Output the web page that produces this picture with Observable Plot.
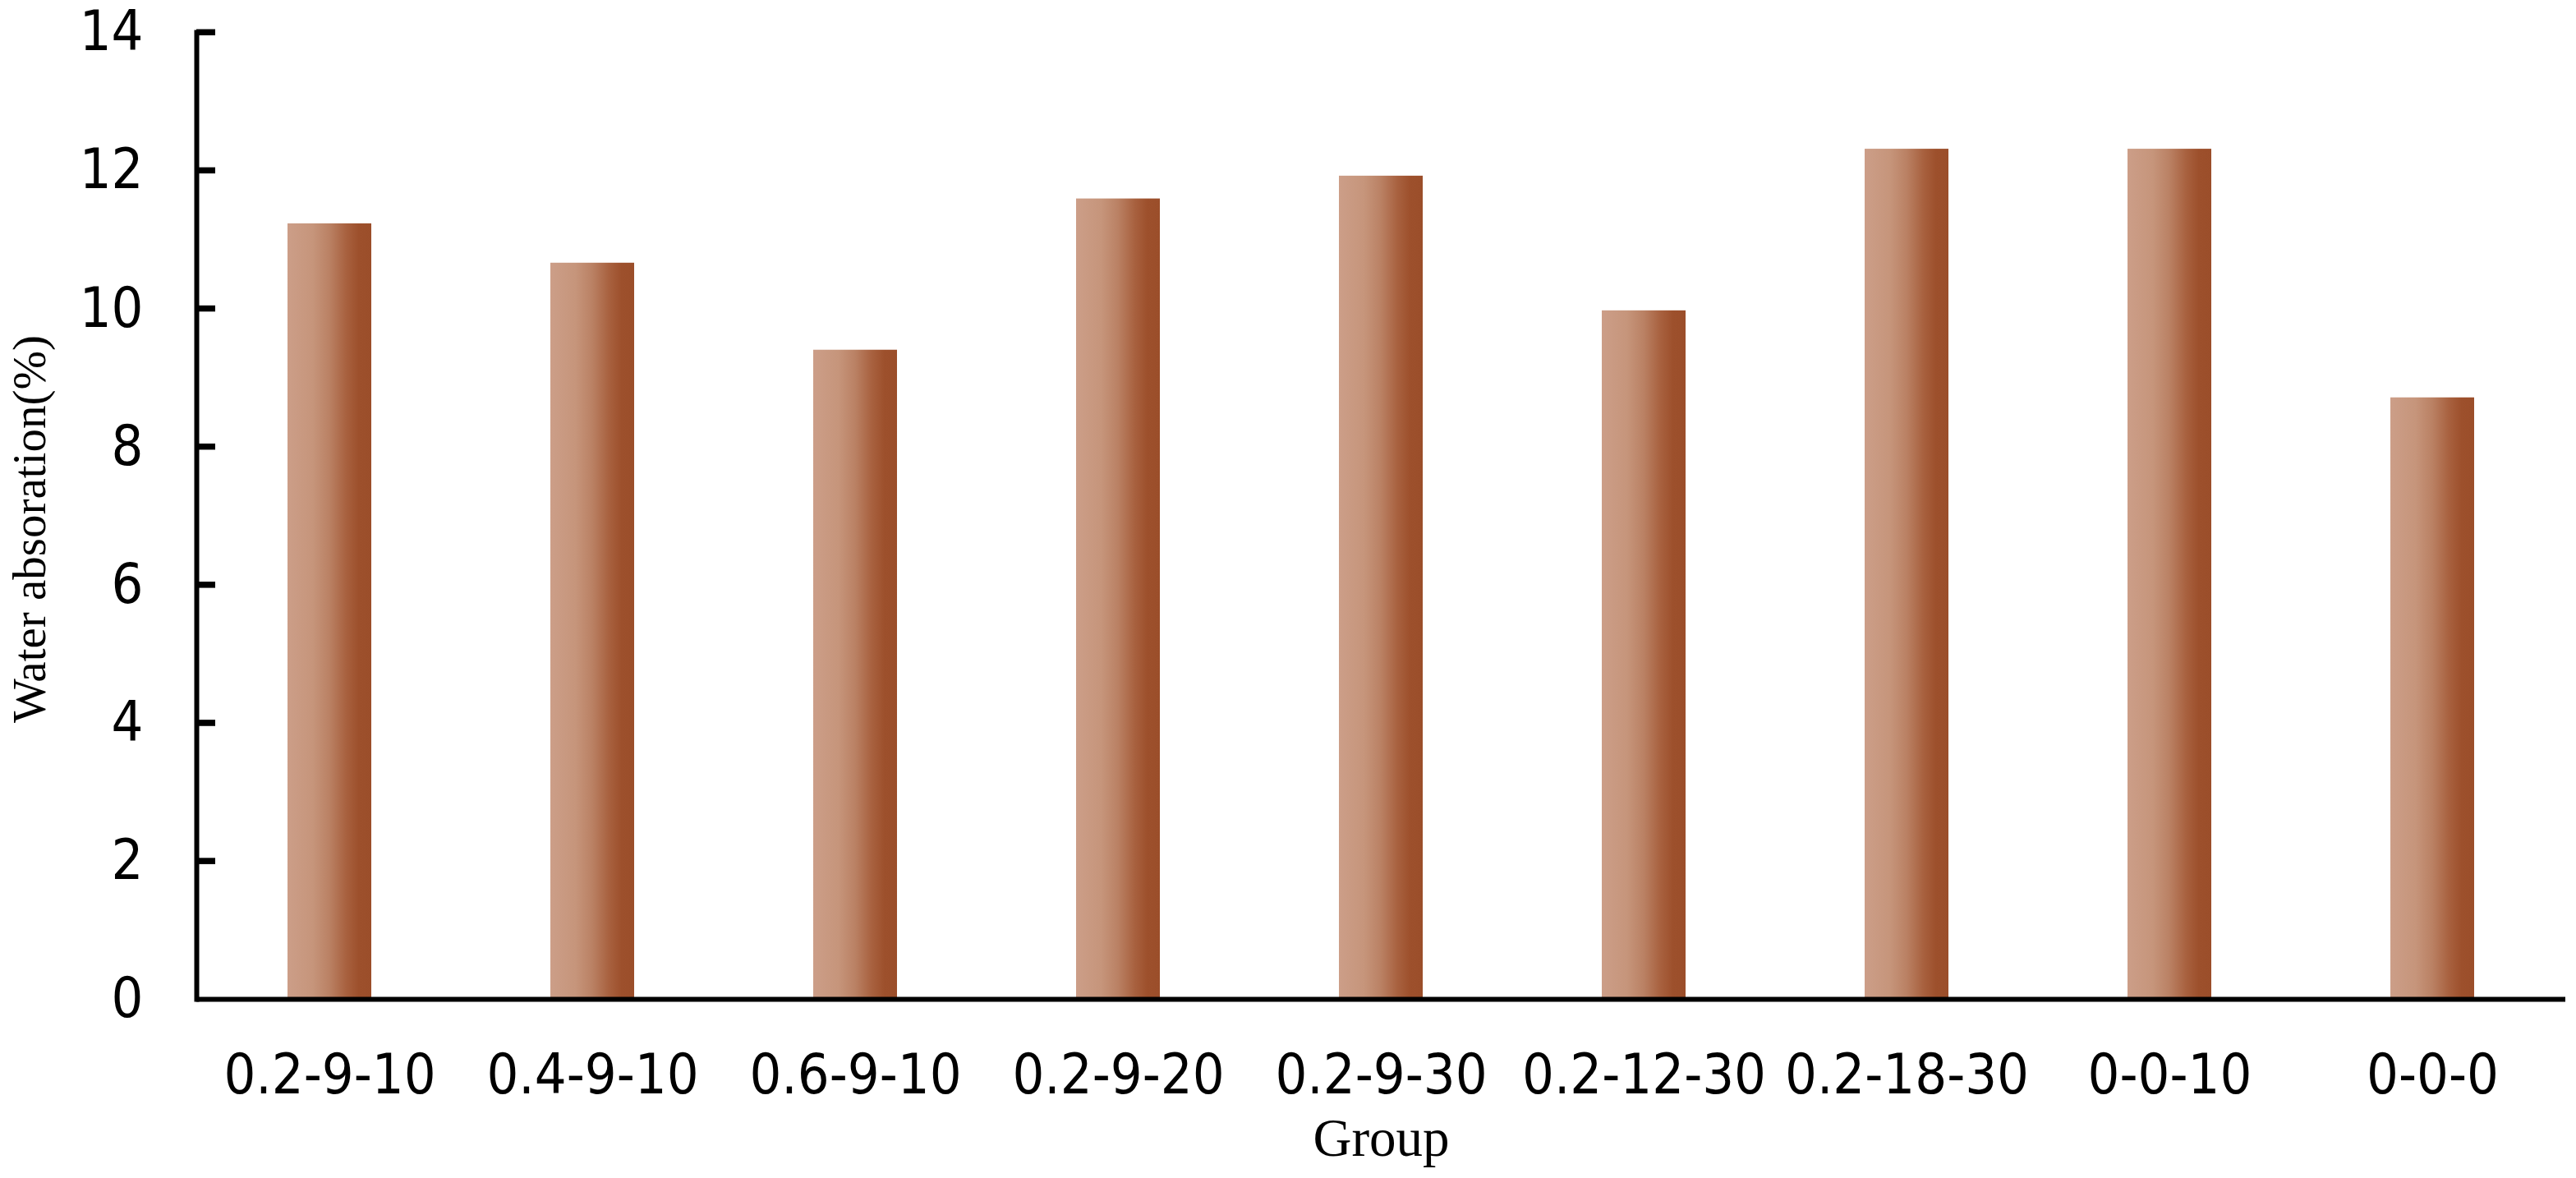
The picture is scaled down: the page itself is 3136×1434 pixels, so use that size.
<!DOCTYPE html>
<html>
<head>
<meta charset="utf-8">
<script src="https://cdn.jsdelivr.net/npm/d3@7"></script>
<script src="https://cdn.jsdelivr.net/npm/@observablehq/plot@0.6"></script>
<style>
  html, body { margin: 0; padding: 0; background: #ffffff; }
</style>
</head>
<body>
<div id="chart"></div>
<script>
// ---- data ----
const groups = ["0.2-9-10", "0.4-9-10", "0.6-9-10", "0.2-9-20", "0.2-9-30", "0.2-12-30", "0.2-18-30", "0-0-10", "0-0-0"];
const absorption = [11.23, 10.66, 9.40, 11.59, 11.92, 9.97, 12.31, 12.31, 8.71];
const yTicks = [0, 2, 4, 6, 8, 10, 12, 14];
const yTitle = "Water absoration(%)";
const xTitle = "Group";

const data = groups.map((g, i) => ({group: g, value: absorption[i]}));

const sansFont = '"Liberation Sans Narrow", "DejaVu Sans Condensed", Lato, sans-serif';
const serifFont = '"Liberation Serif", "Times New Roman", serif';

const W = 3136, H = 1434, mL = 239, mR = 13, mT = 39, mB = 218;
const inwardTick = 23;

const chart = Plot.plot({
  width: W,
  height: H,
  marginLeft: mL,
  marginRight: mR,
  marginTop: mT,
  marginBottom: mB,
  style: {background: "#ffffff", fontFamily: sansFont, color: "#000"},
  x: {domain: groups, paddingInner: 0.68, paddingOuter: 0.34, label: null},
  y: {domain: [0, 14], label: null},
  marks: [
    Plot.barY(data, {x: "group", y: "value", fill: "url(#barGrad)"}),
    Plot.axisY(yTicks, {tickSize: 0, tickPadding: 65, fontSize: 68, tickFormat: d => String(d), label: null}),
    Plot.axisX({tickSize: 0, tickPadding: 66, fontSize: 68, label: null}),
    Plot.frame({anchor: "left", strokeWidth: 6}),
    Plot.ruleY([0], {strokeWidth: 6}),
    // inward tick marks on the y axis
    Plot.ruleY(yTicks.filter(t => t > 0), {y: d => d, stroke: "#000", strokeWidth: 7, insetRight: (W - mL - mR) - inwardTick}),
    Plot.text([yTitle], {text: d => d, frameAnchor: "left", textAnchor: "middle", lineAnchor: "middle", rotate: -90, dx: -203, dy: 16, fontSize: 57, fontFamily: serifFont}),
    Plot.text([xTitle], {text: d => d, frameAnchor: "bottom", lineAnchor: "bottom", dy: 190, fontSize: 65, fontFamily: serifFont})
  ]
});

const svg = chart.tagName.toLowerCase() === "svg" ? chart : chart.querySelector("svg");
const defs = d3.select(svg).insert("defs", ":first-child");
const grad = defs.append("linearGradient")
  .attr("id", "barGrad").attr("x1", "0").attr("x2", "1").attr("y1", "0").attr("y2", "0");
[["0%", "#cc9e88"], ["30%", "#c6957b"], ["50%", "#ba8164"], ["70%", "#a8613f"], ["85%", "#9d502c"], ["100%", "#9b4e2a"]]
  .forEach(([o, c]) => grad.append("stop").attr("offset", o).attr("stop-color", c));

// make sure the inward y ticks sit on top, positioned with Plot's own y scale
const yScale = chart.scale("y");
d3.select(svg).append("g").attr("aria-label", "y-axis inward ticks")
  .selectAll("line").data(yTicks.filter(t => t > 0)).join("line")
  .attr("x1", mL).attr("x2", mL + inwardTick)
  .attr("y1", d => yScale.apply(d)).attr("y2", d => yScale.apply(d))
  .attr("stroke", "#000").attr("stroke-width", 7);

document.getElementById("chart").appendChild(chart);
</script>
</body>
</html>
